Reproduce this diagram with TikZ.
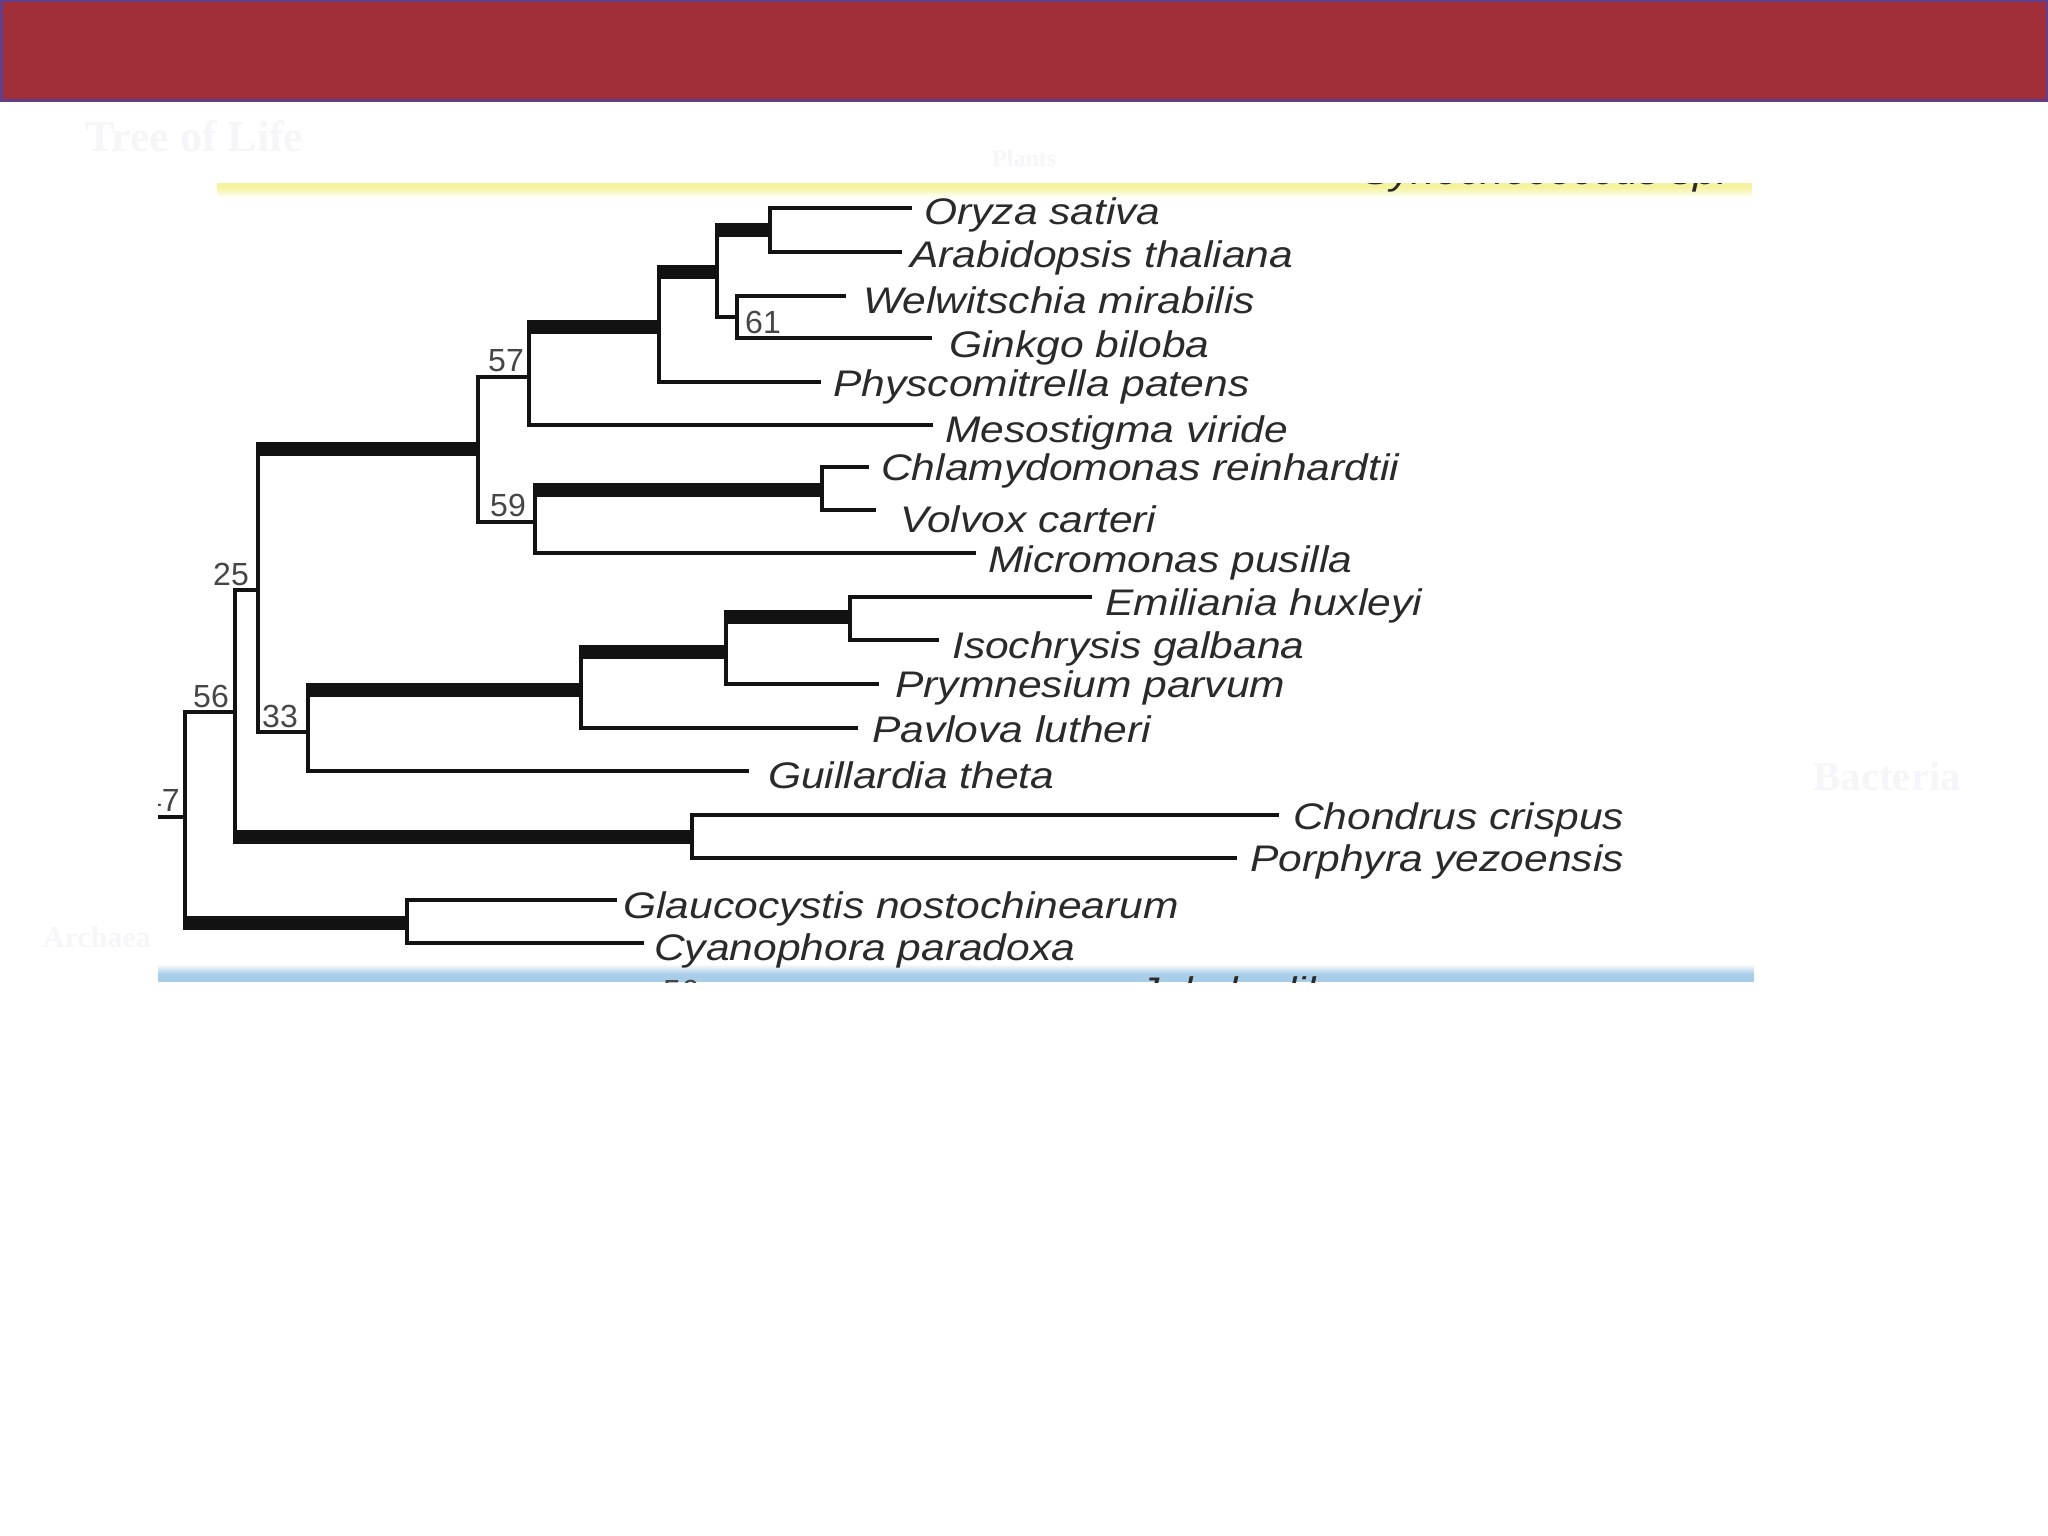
\documentclass[tikz,border=0pt]{standalone}
\usepackage{fontspec}
\newfontfamily\leaffont[FakeStretch=1.15]{Liberation Sans}
\newfontfamily\numfont{Liberation Sans}
\newfontfamily\ghostfont{Liberation Serif}
\definecolor{hdr}{RGB}{161,47,57}
\definecolor{hdrline}{RGB}{96,62,140}
\definecolor{yband}{RGB}{245,243,160}
\definecolor{bband}{RGB}{168,205,232}
\definecolor{ink}{RGB}{18,18,18}
\definecolor{txt}{RGB}{42,42,42}
\definecolor{numtxt}{RGB}{70,70,70}
\definecolor{ghost}{RGB}{246,246,250}
\begin{document}
\begin{tikzpicture}[x=1pt,y=-1pt,
  br/.style={draw=ink, line width=4pt, line cap=rect},
  thk/.style={draw=ink, line width=14pt, shorten <=-2pt},
  leaf/.style={font={\leaffont\itshape\fontsize{37pt}{40pt}\selectfont}, text=txt, inner sep=0pt, anchor=base west},
  supp/.style={font={\numfont\fontsize{32pt}{34pt}\selectfont}, text=numtxt, inner sep=0pt},
  ghosttxt/.style={text=ghost, inner sep=0pt, anchor=base west}]
\useasboundingbox (0,0) rectangle (2048,1536);
\fill[white] (0,0) rectangle (2048,1536);
% header bar
\fill[hdr] (0,0) rectangle (2048,102);
\draw[hdrline, line width=2.5pt] (1.25,1.25) rectangle (2046.75,100.75);
% faint background labels
\node[ghosttxt, font={\ghostfont\bfseries\fontsize{44pt}{46pt}\selectfont}] (gtitle) at (85,151) {Tree of Life};
\node[ghosttxt, font={\ghostfont\bfseries\fontsize{24pt}{26pt}\selectfont}] (gplants) at (992,167) {Plants};
\node[ghosttxt, font={\ghostfont\bfseries\fontsize{41pt}{43pt}\selectfont}] (gbact) at (1813,790) {Bacteria};
\node[ghosttxt, font={\ghostfont\bfseries\fontsize{30pt}{32pt}\selectfont}] (garch) at (43,947) {Archaea};
\begin{scope}
\clip (158,183) rectangle (1754,982);
% yellow band
\fill[yband] (217,183) rectangle (1752,188.5);
\foreach \i [evaluate=\i as \p using int(95-10*\i)] in {0,...,9}
  {\fill[yband!\p!white] (217,188+\i) rectangle (1752,189.6+\i);}
% blue band
\foreach \i [evaluate=\i as \p using int(10*\i)] in {1,...,10}
  {\fill[bband!\p!white] (158,964+\i) rectangle (1754,965.6+\i);}
\fill[bband] (158,975) rectangle (1754,982);
% clipped fragments of neighbouring labels
\begin{scope}
\clip (1300,183) rectangle (1754,200);
\node[leaf] (fragtop) at (1362,184) {Synechococcus sp.};
\end{scope}
\node[leaf] (fragbot) at (1138,1003) {Jakoba libera};
\node[supp, anchor=base west] (fragnum) at (663,1002) {56};
% internal nodes
\coordinate (A) at (770,230);
\coordinate (B) at (737,317);
\coordinate (C) at (717,272);
\coordinate (D) at (659,327);
\coordinate (E) at (529,377);
\coordinate (F) at (478,449);
\coordinate (G) at (535,522);
\coordinate (H) at (822,490);
\coordinate (I) at (258,590);
\coordinate (J) at (235,712);
\coordinate (K) at (726,652);
\coordinate (L) at (581,690);
\coordinate (M) at (308,732);
\coordinate (N) at (692,837);
\coordinate (O) at (185,817);
\coordinate (P) at (407,923);
\coordinate (Q) at (850,617);
\coordinate (root) at (140,817);
% leaf tips and labels
\coordinate (t1) at (910,208);   \node[leaf] (l1) at (924,224) {Oryza sativa};
\coordinate (t2) at (900,252);   \node[leaf] (l2) at (910,267) {Arabidopsis thaliana};
\coordinate (t3) at (844,296);   \node[leaf] (l3) at (863,313) {Welwitschia mirabilis};
\coordinate (t4) at (930,338);   \node[leaf] (l4) at (949,357) {Ginkgo biloba};
\coordinate (t5) at (819,382);   \node[leaf] (l5) at (833,396) {Physcomitrella patens};
\coordinate (t6) at (931,425);   \node[leaf] (l6) at (945,442) {Mesostigma viride};
\coordinate (t7) at (867,467);   \node[leaf] (l7) at (881,480) {Chlamydomonas reinhardtii};
\coordinate (t8) at (874,510);   \node[leaf] (l8) at (900,532) {Volvox carteri};
\coordinate (t9) at (974,553);   \node[leaf] (l9) at (988,572) {Micromonas pusilla};
\coordinate (t10) at (1090,597); \node[leaf] (l10) at (1105,615) {Emiliania huxleyi};
\coordinate (t11) at (937,640);  \node[leaf] (l11) at (952,658) {Isochrysis galbana};
\coordinate (t12) at (877,684);  \node[leaf] (l12) at (895,697) {Prymnesium parvum};
\coordinate (t13) at (856,728);  \node[leaf] (l13) at (872,742) {Pavlova lutheri};
\coordinate (t14) at (747,771);  \node[leaf] (l14) at (768,788) {Guillardia theta};
\coordinate (t15) at (1277,815); \node[leaf] (l15) at (1293,829) {Chondrus crispus};
\coordinate (t16) at (1235,858); \node[leaf] (l16) at (1250,871) {Porphyra yezoensis};
\coordinate (t17) at (615,900);  \node[leaf] (l17) at (623,918) {Glaucocystis nostochinearum};
\coordinate (t18) at (642,943);  \node[leaf] (l18) at (654,960) {Cyanophora paradoxa};
% branches
\foreach \pa/\ch/\st in {
  A/t1/br, A/t2/br, B/t3/br, B/t4/br, C/A/thk, C/B/br, D/C/thk, D/t5/br,
  E/D/thk, E/t6/br, H/t7/br, H/t8/br, G/H/thk, G/t9/br, F/E/br, F/G/br,
  Q/t10/br, Q/t11/br, K/Q/thk, K/t12/br, L/K/thk, L/t13/br, M/L/thk, M/t14/br,
  I/F/thk, I/M/br, N/t15/br, N/t16/br, J/I/br, J/N/thk,
  P/t17/br, P/t18/br, O/J/br, O/P/thk}
  {\draw[br] (\pa) -- (\pa |- \ch);
   \draw[\st] (\pa |- \ch) -- (\ch);}
\draw[br] (root) -- (O);
% support values
\node[supp, anchor=base east] (s57) at (524,371) {57};
\node[supp, anchor=base east] (s59) at (526,516) {59};
\node[supp, anchor=base west] (s61) at (745,333) {61};
\node[supp, anchor=base east] (s25) at (249,585) {25};
\node[supp, anchor=base east] (s33) at (298,727) {33};
\node[supp, anchor=base east] (s56) at (229,707) {56};
\node[supp, anchor=base east] (s47) at (180,811) {47};
\end{scope}
\end{tikzpicture}
\end{document}
